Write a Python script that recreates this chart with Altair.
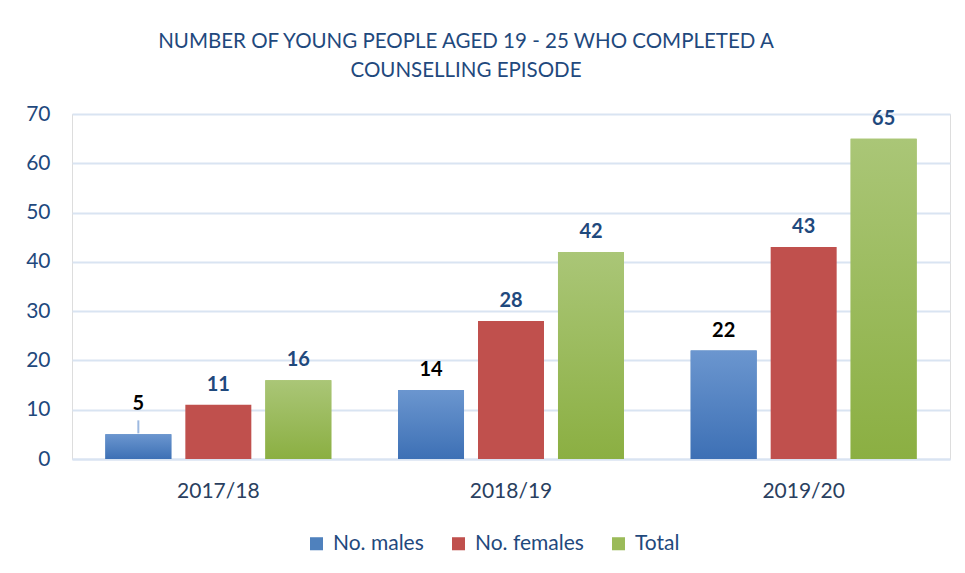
import altair as alt
import pandas as pd

years = ["2017/18", "2018/19", "2019/20"]
series = ["No. males", "No. females", "Total"]
males = [5, 14, 22]
females = [11, 28, 43]
total = [16, 42, 65]

rows = []
for i, y in enumerate(years):
    for s, vals in zip(series, [males, females, total]):
        rows.append({"year": y, "series": s, "value": vals[i]})
df = pd.DataFrame(rows)

FONT = "Lato"
DARK = "#1F497D"
GRID = "#D9E4F2"

x = alt.X("year:N", sort=years, title=None,
          scale=alt.Scale(paddingInner=0, paddingOuter=0),
          axis=alt.Axis(labelAngle=0, labelFontSize=21, labelColor="#2A3F5F",
                        labelFont=FONT, ticks=False, domain=True, domainColor=GRID,
                        domainWidth=2, labelPadding=21))
xo = alt.XOffset("series:N", sort=series,
                 scale=alt.Scale(domain=series, paddingInner=0.175, paddingOuter=0.417))
y = alt.Y("value:Q", title=None,
          scale=alt.Scale(domain=[0, 70]),
          axis=alt.Axis(values=[0, 10, 20, 30, 40, 50, 60, 70], ticks=False, domain=False,
                        gridColor=GRID, gridWidth=2, labelFontSize=21, labelColor=DARK,
                        labelFont=FONT, labelPadding=22, minExtent=55, maxExtent=55))

base = alt.Chart(df)

bars = base.mark_bar().encode(
    x=x, xOffset=xo, y=y,
    color=alt.Color("series:N", sort=series,
                    scale=alt.Scale(domain=series, range=["#4F81BD", "#C0504D", "#9BBB59"]),
                    legend=alt.Legend(title=None, orient="none", direction="horizontal",
                                      legendX=234, legendY=419, symbolType="square",
                                      symbolSize=170, symbolStrokeWidth=0,
                                      labelFontSize=21, labelColor=DARK, labelFont=FONT,
                                      labelOffset=6, columnPadding=24)),
)

blue_grad = alt.LinearGradient(gradient="linear", x1=0, y1=0, x2=0, y2=1,
                               stops=[alt.GradientStop(color="#6B96CF", offset=0),
                                      alt.GradientStop(color="#3D70B5", offset=1)])
green_grad = alt.LinearGradient(gradient="linear", x1=0, y1=0, x2=0, y2=1,
                                stops=[alt.GradientStop(color="#AAC677", offset=0),
                                       alt.GradientStop(color="#8BAF42", offset=1)])

males_bar = base.transform_filter(alt.datum.series == "No. males").mark_bar(
    color=blue_grad).encode(x=x, xOffset=xo, y=y)
total_bar = base.transform_filter(alt.datum.series == "Total").mark_bar(
    color=green_grad).encode(x=x, xOffset=xo, y=y)

labels = base.transform_filter(alt.datum.value > 5).mark_text(
    baseline="bottom", dy=-10, fontSize=20, fontWeight="bold", font=FONT).encode(
    x=x, xOffset=xo, y=y, text="value:Q",
    color=alt.condition(alt.datum.series == "No. males", alt.value("#000000"), alt.value(DARK)),
)
small_label = base.transform_filter(alt.datum.value <= 5).mark_text(
    baseline="bottom", dy=-20, fontSize=20, fontWeight="bold", font=FONT, color="#000000").encode(
    x=x, xOffset=xo, y=y, text="value:Q")
leader = base.transform_filter(alt.datum.value <= 5).mark_rule(
    color="#9DB9E0", strokeWidth=2, yOffset=-1, y2Offset=-14).encode(
    x=x, xOffset=xo, y=y, y2="value:Q")

chart = alt.layer(bars, males_bar, total_bar, leader, labels, small_label).properties(
    width=878, height=345,
    padding={"left": 9, "top": 23, "right": 5, "bottom": 5},
    title=alt.TitleParams(
        text=["NUMBER OF YOUNG PEOPLE AGED 19 - 25 WHO COMPLETED A", "COUNSELLING EPISODE"],
        fontSize=20.5, font=FONT, fontWeight="normal", color=DARK, lineHeight=29,
        anchor="middle", dx=-45, offset=22),
).configure_view(stroke=None).configure(background="white")

chart.save("out.html", embed_options={"renderer": "svg", "actions": False})
